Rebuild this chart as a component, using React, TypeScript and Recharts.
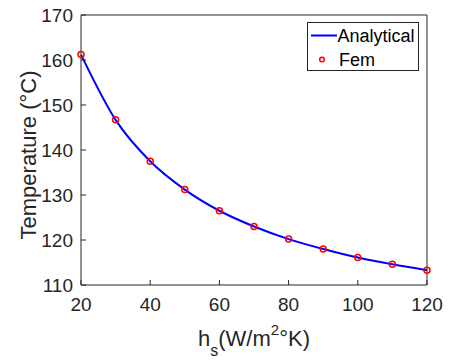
import React from "react";
import { ComposedChart, Line, Scatter, XAxis, YAxis, Legend } from "recharts";

const hs = [20, 30, 40, 50, 60, 70, 80, 90, 100, 110, 120];
const analytical = [161.2, 146.7, 137.5, 131.2, 126.5, 123.0, 120.2, 118.0, 116.1, 114.6, 113.3];
const fem = [161.2, 146.7, 137.5, 131.2, 126.5, 123.0, 120.2, 118.0, 116.1, 114.6, 113.3];
const xTicks = [20, 40, 60, 80, 100, 120];
const yTicks = [110, 120, 130, 140, 150, 160, 170];
const seriesNames = ["Analytical", "Fem"];

const data = hs.map((h, i) => ({ hs: h, analytical: analytical[i], fem: fem[i] }));

const font = "'Liberation Sans', Arial, Helvetica, sans-serif";
const ink = "#262626";

const FemMarker = (props: any) => (
  <circle cx={props.cx} cy={props.cy} r={3} fill="none" stroke="#ff0000" strokeWidth={1.5} />
);

const LegendBox = () => (
  <svg width={112} height={49} style={{ display: "block" }}>
    <rect x={0.5} y={0.5} width={111} height={48} fill="#fff" stroke={ink} strokeWidth={1} />
    <line x1={4} y1={13.5} x2={30} y2={13.5} stroke="#0000ff" strokeWidth={2} />
    <text x={30.5} y={19.5} fontSize={18} fontFamily={font} fill="#000">{seriesNames[0]}</text>
    <circle cx={15} cy={37.5} r={2.3} fill="none" stroke="#ff0000" strokeWidth={1.5} />
    <text x={32} y={43.5} fontSize={18} fontFamily={font} fill="#000">{seriesNames[1]}</text>
  </svg>
);

const YLabel = () => (
  <text transform="translate(36,155) rotate(-90)" textAnchor="middle" fontSize={22} fontFamily={font} fill={ink}>
    Temperature (°C)
  </text>
);

const XLabel = () => (
  <text x={254} y={346} textAnchor="middle" fontSize={22} fontFamily={font} fill={ink}>
    h<tspan fontSize={16} dy={10}>s</tspan>
    <tspan dy={-10}>(W/m</tspan>
    <tspan fontSize={15} dy={-11}>2</tspan>
    <tspan dy={11}>°K)</tspan>
  </text>
);

export default function App() {
  const tickStyle = { fill: ink, fontSize: 19, fontFamily: font };
  return (
    <div style={{ position: "absolute", left: 0, top: 0, background: "#fff" }}>
      <ComposedChart width={450} height={360} data={data} margin={{ top: 14, right: 22, bottom: 0, left: 0 }}>
        <XAxis
          dataKey="hs"
          type="number"
          domain={[20, 120]}
          ticks={xTicks}
          interval={0}
          height={75}
          tickSize={-5}
          tickMargin={18}
          stroke={ink}
          tick={tickStyle}
          label={{ content: () => <XLabel /> }}
        />
        <XAxis
          xAxisId="top"
          orientation="top"
          type="number"
          domain={[20, 120]}
          ticks={xTicks}
          interval={0}
          height={1}
          tickSize={-5}
          stroke={ink}
          tick={false}
        />
        <YAxis
          type="number"
          domain={[110, 170]}
          ticks={yTicks}
          interval={0}
          width={81}
          tickSize={-5}
          tickMargin={13}
          stroke={ink}
          tick={tickStyle}
          label={{ content: () => <YLabel /> }}
        />
        <YAxis
          yAxisId="right"
          orientation="right"
          type="number"
          domain={[110, 170]}
          ticks={yTicks}
          interval={0}
          width={1}
          tickSize={-5}
          stroke={ink}
          tick={false}
        />
        <Line
          dataKey="analytical"
          name={seriesNames[0]}
          type="monotone"
          stroke="#0000ff"
          strokeWidth={2}
          dot={false}
          isAnimationActive={false}
        />
        <Scatter dataKey="fem" name={seriesNames[1]} shape={FemMarker} isAnimationActive={false} />
        <Legend
          layout="vertical"
          align="center"
          verticalAlign="middle"
          wrapperStyle={{ left: 307, top: 22, width: 112, height: 49 }}
          content={() => <LegendBox />}
        />
      </ComposedChart>
    </div>
  );
}
